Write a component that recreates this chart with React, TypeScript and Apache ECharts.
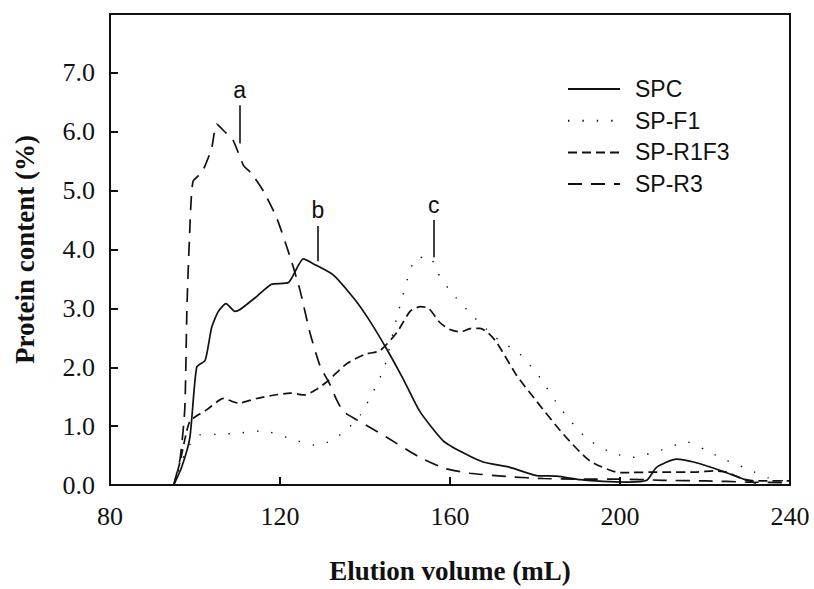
import React, { useEffect, useRef } from "react";
import * as echarts from "echarts";

const xTicks = [80, 120, 160, 200, 240];
const yTickLabels = ["0.0", "1.0", "2.0", "3.0", "4.0", "5.0", "6.0", "7.0"];

const seriesNames = ["SPC", "SP-F1", "SP-R1F3", "SP-R3"];

const spcData: number[][] = [
  [95, 0], [96.9, 0.31], [98.8, 0.81], [100.4, 2.0], [102.4, 2.12], [103.9, 2.67],
  [105.5, 2.95], [107.3, 3.08], [109.4, 2.95], [110.6, 2.98], [114.5, 3.2],
  [118, 3.41], [122, 3.44], [125.5, 3.84], [127.8, 3.76], [132.5, 3.57],
  [137.6, 3.15], [141, 2.8], [145.1, 2.31], [149, 1.8], [152.9, 1.25],
  [158.4, 0.75], [163, 0.55], [167.8, 0.39], [174.1, 0.3], [180.4, 0.16],
  [185.1, 0.15], [190.6, 0.09], [196, 0.06], [202, 0.05], [206.3, 0.08],
  [208.6, 0.3], [213.3, 0.44], [217.3, 0.39], [224.3, 0.23], [229.8, 0.08], [232, 0.03],
];

const f1Data: number[][] = [
  [95, 0], [98, 0.6], [101, 0.85], [105, 0.86], [110, 0.88], [116, 0.92],
  [122, 0.8], [128, 0.68], [131, 0.72], [133.3, 0.81], [135.7, 0.94], [139, 1.2],
  [142.4, 1.65], [144.7, 2.03], [147.8, 2.93], [151.8, 3.84], [155.3, 3.87],
  [157, 3.62], [160, 3.3], [165, 2.9], [170, 2.55], [172.9, 2.39], [175.7, 2.28],
  [179.2, 2.0], [181.2, 1.82], [186, 1.3], [192, 0.8], [198, 0.55], [203, 0.47],
  [210, 0.6], [215.8, 0.73], [220, 0.6], [224.3, 0.44], [226.7, 0.37],
  [230.4, 0.26], [235, 0.12], [240, 0.05],
];

const r1f3Data: number[][] = [
  [95, 0], [96.5, 0.4], [98, 0.9], [98.8, 1.08], [100.5, 1.18], [102.8, 1.28],
  [106.7, 1.47], [110.2, 1.39], [114.5, 1.47], [118, 1.52], [122.4, 1.56],
  [125.9, 1.53], [128.5, 1.62], [131, 1.75], [135.7, 2.06], [140, 2.22],
  [143.5, 2.28], [147.5, 2.59], [150.6, 2.95], [153, 3.03], [155, 3.0],
  [157.6, 2.76], [160, 2.64], [162.4, 2.6], [165, 2.66], [167.1, 2.66],
  [169, 2.58], [171, 2.42], [175.7, 1.86], [180.4, 1.42], [186.7, 0.86],
  [192.9, 0.41], [200, 0.21], [210, 0.22], [218, 0.22], [222, 0.24],
  [225, 0.22], [229, 0.1], [232, 0.07], [240, 0.07],
];

const r3Data: number[][] = [
  [95, 0], [96.5, 0.45], [97.6, 1.3], [98.1, 3.0], [98.7, 4.2], [99.5, 5.15],
  [101.5, 5.3], [102.4, 5.43], [103.9, 5.71], [105.1, 6.13], [107, 6.0],
  [109, 5.85], [111.4, 5.43], [113.3, 5.29], [116.1, 4.99], [119.2, 4.54],
  [122.4, 3.87], [124.7, 3.31], [127, 2.6], [129.4, 2.03], [131.8, 1.7],
  [133.3, 1.45], [134.9, 1.25], [138, 1.11], [141.6, 0.96], [145.1, 0.81],
  [152.9, 0.47], [158.8, 0.28], [164.7, 0.2], [174.1, 0.14], [182, 0.11],
  [190, 0.1], [200, 0.1], [210, 0.08], [220, 0.07], [230, 0.05], [240, 0.04],
];

const annotationLabels = ["a", "b", "c"];
const annotationX = [110.5, 128.9, 156.2];
const annotationYLow = [5.8, 3.8, 3.87];
const annotationYHigh = [6.45, 4.4, 4.5];

export default function App() {
  const ref = useRef<HTMLDivElement>(null);
  useEffect(() => {
    if (!ref.current) return;
    const chart = echarts.init(ref.current, undefined, { renderer: "svg" });
    const ink = "#111";
    const markData = annotationLabels.map((lab, i) => [
      { coord: [annotationX[i], annotationYLow[i]] },
      { coord: [annotationX[i], annotationYHigh[i]], label: { formatter: lab } },
    ]);
    const datasets = [spcData, f1Data, r1f3Data, r3Data];
    const lineTypes: any[] = ["solid", [1.4, 13], [9, 5], [14, 9]];
    const widths = [1.7, 1.4, 1.7, 1.7];
    const series: any[] = seriesNames.map((name, i) => ({
      name,
      type: "line",
      data: datasets[i],
      symbol: "none",
      smooth: 0.2,
      lineStyle: { color: ink, width: widths[i], type: lineTypes[i] },
      itemStyle: { color: ink },
      silent: true,
    }));
    series[0].markLine = {
      silent: true,
      symbol: ["none", "none"],
      lineStyle: { color: ink, width: 1.6, type: "solid" },
      label: {
        show: true,
        position: "end",
        distance: 4,
        color: ink,
        fontSize: 23,
        fontFamily: "Liberation Sans, Arial, sans-serif",
      },
      data: markData,
    };
    chart.setOption({
      animation: false,
      backgroundColor: "#fff",
      grid: {
        left: 110,
        right: 24,
        top: 14,
        bottom: 98,
        show: true,
        borderColor: ink,
        borderWidth: 2,
        backgroundColor: "transparent",
      },
      legend: {
        orient: "vertical",
        left: 567,
        top: 76,
        padding: 0,
        itemWidth: 52,
        itemHeight: 4,
        itemGap: 5.7,
        selectedMode: false,
        itemStyle: { opacity: 0 },
        textStyle: {
          color: ink,
          fontSize: 23,
          fontFamily: "Liberation Sans, Arial, sans-serif",
          lineHeight: 26,
          padding: [0, 0, 0, 10],
        },
        data: seriesNames,
      },
      xAxis: {
        type: "value",
        min: xTicks[0],
        max: xTicks[xTicks.length - 1],
        interval: 40,
        name: "Elution volume (mL)",
        nameLocation: "middle",
        nameGap: 72,
        nameTextStyle: {
          color: ink,
          fontSize: 27,
          fontWeight: "bold",
          fontFamily: "Liberation Serif, Times New Roman, serif",
        },
        axisLine: { show: true, lineStyle: { color: ink, width: 2 } },
        axisTick: { show: true, inside: true, length: 8, lineStyle: { color: ink, width: 2 } },
        axisLabel: {
          color: ink,
          fontSize: 26,
          margin: 18,
          fontFamily: "Liberation Serif, Times New Roman, serif",
        },
        splitLine: { show: false },
      },
      yAxis: {
        type: "value",
        min: 0,
        max: 8,
        interval: 1,
        name: "Protein content (%)",
        nameLocation: "middle",
        nameGap: 72,
        nameTextStyle: {
          color: ink,
          fontSize: 27,
          fontWeight: "bold",
          fontFamily: "Liberation Serif, Times New Roman, serif",
        },
        axisLine: { show: true, lineStyle: { color: ink, width: 2 } },
        axisTick: { show: true, inside: true, length: 8, lineStyle: { color: ink, width: 2 } },
        axisLabel: {
          color: ink,
          fontSize: 26,
          margin: 15,
          fontFamily: "Liberation Serif, Times New Roman, serif",
          formatter: (v: number) => yTickLabels[Math.round(v)] ?? "",
        },
        splitLine: { show: false },
      },
      series,
    });
    return () => chart.dispose();
  }, []);
  return (
    <div
      ref={ref}
      style={{ position: "fixed", left: 0, top: 0, width: 814, height: 589 }}
    />
  );
}
